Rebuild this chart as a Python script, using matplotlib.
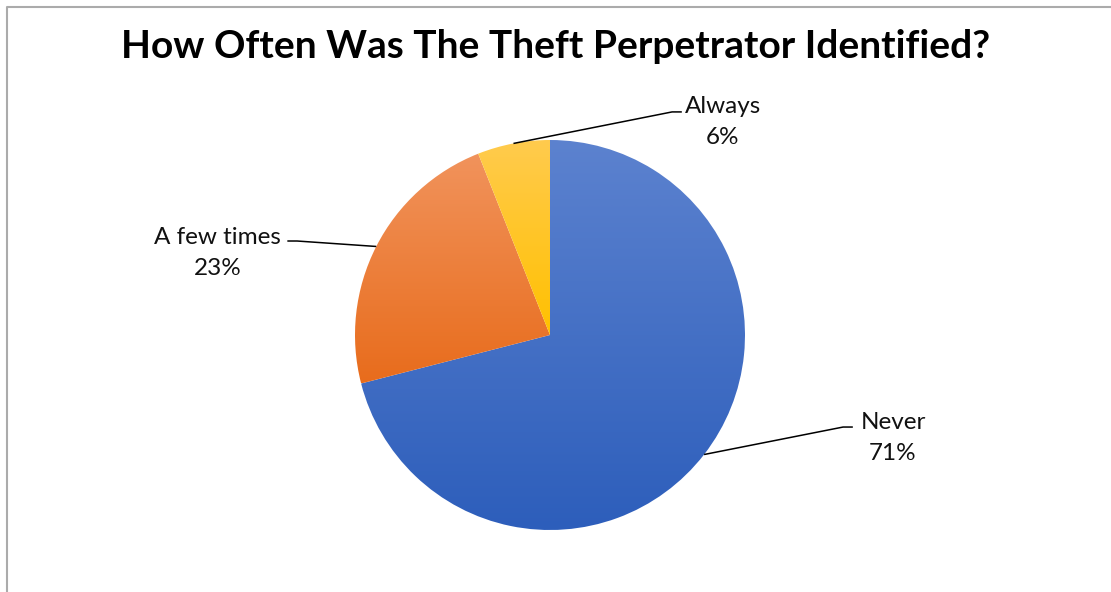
import numpy as np
import matplotlib
matplotlib.use("Agg")
import matplotlib.pyplot as plt
from matplotlib.colors import LinearSegmentedColormap
from matplotlib.lines import Line2D

categories = ["Never", "A few times", "Always"]
values = [71, 23, 6]
top_colors = ["#5C82CF", "#F1935C", "#FFCB4E"]
bottom_colors = ["#2D5EBB", "#E86C1C", "#FFC000"]
# label text positions (data units, radius = 1) and elbow points
label_pos = [(1.759, -0.53), (-1.703, 0.422), (0.885, 1.092)]
elbow_end = [(1.503, -0.472), (-1.297, 0.482), (0.626, 1.144)]

plt.rcParams['font.family'] = ['Lato', 'DejaVu Sans']

fig = plt.figure(figsize=(11.11, 5.92), dpi=100)
ax = fig.add_axes([0, 0, 1, 1])
cx, cy, R = 550, 335, 195
W, H = 1111, 592
ax.axis('off')

wedges, _ = ax.pie(values, startangle=90, counterclock=False, radius=1,
                   wedgeprops=dict(linewidth=0))
ax.set_xlim(-cx / R, (W - cx) / R)
ax.set_ylim(-(H - cy) / R, cy / R)
ax.set_aspect('auto')

grad = np.linspace(0, 1, 256).reshape(-1, 1)
inv = ax.transData.inverted()
for w, tc, bc in zip(wedges, top_colors, bottom_colors):
    w.set_facecolor('none')
    cmap = LinearSegmentedColormap.from_list('g', [tc, bc])
    bb = w.get_window_extent()
    (x0, y0), (x1, y1) = inv.transform([[bb.x0, bb.y0], [bb.x1, bb.y1]])
    im = ax.imshow(grad, cmap=cmap, extent=[x0, x1, y0, y1], origin='upper',
                   aspect='auto', interpolation='bilinear', zorder=1)
    im.set_clip_path(w)

ax.set_xlim(-cx / R, (W - cx) / R)
ax.set_ylim(-(H - cy) / R, cy / R)

for w, cat, v, (tx, ty), (ex, ey) in zip(wedges, categories, values, label_pos, elbow_end):
    mid = np.deg2rad((w.theta1 + w.theta2) / 2)
    px, py = np.cos(mid), np.sin(mid)
    hx = ex + (0.05 if ex > 0 else -0.05)
    ax.plot([px, ex, hx], [py, ey, ey], color='black', lw=1.1, zorder=3,
            solid_capstyle='butt')
    ax.text(tx, ty, f"{cat}\n{v}%", ha='center', va='center', fontsize=17.5,
            color='#111111', linespacing=1.58, zorder=4)

fig.text(0.5, 1 - 46 / H, "How Often Was The Theft Perpetrator Identified?",
         ha='center', va='center', fontsize=28, fontweight='bold', color='black')

fig.add_artist(Line2D([6.5 / W, 6.5 / W, 1], [0, 1 - 6.5 / H, 1 - 6.5 / H],
                      transform=fig.transFigure, color='#ABABAB', lw=1.5))

fig.savefig('out.png', dpi=100)
